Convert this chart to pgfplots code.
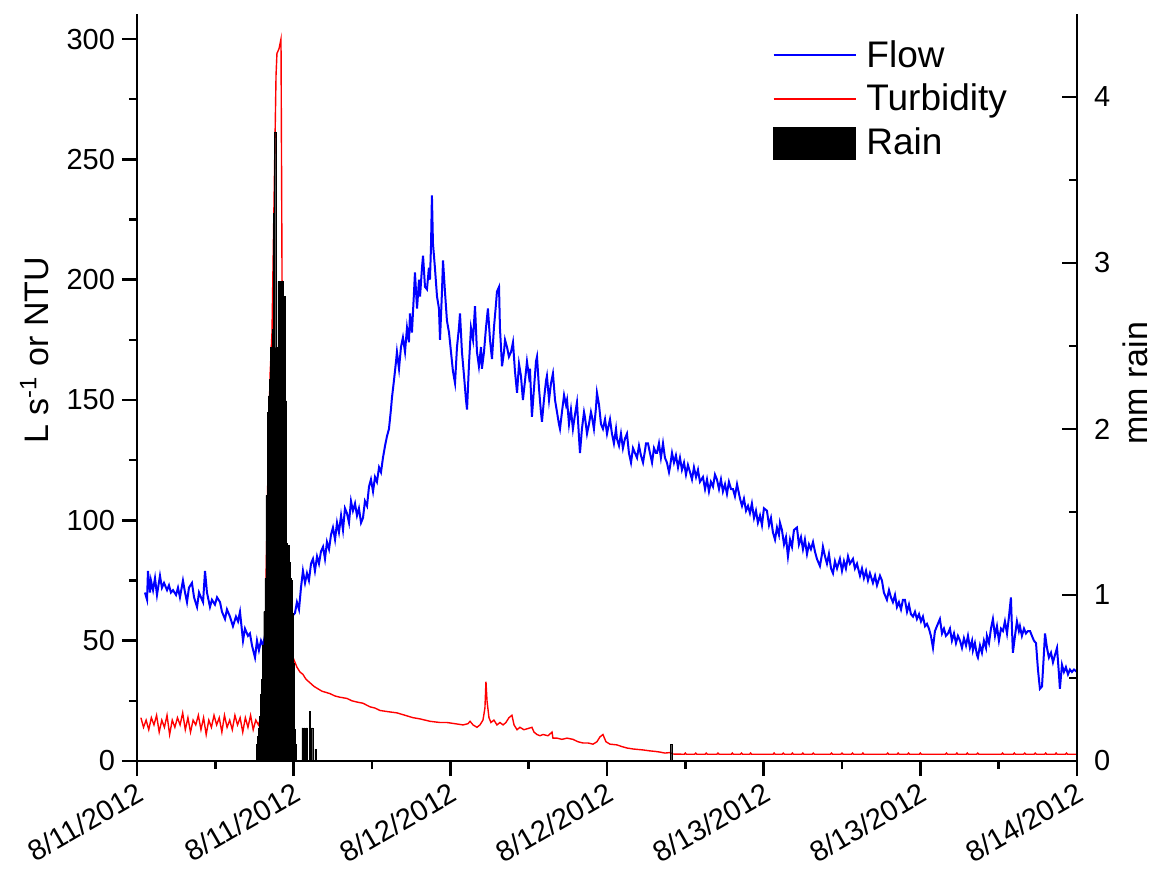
\documentclass[border=0pt]{standalone}
\usepackage{fontspec}
\setmainfont{Liberation Sans}
\usepackage{pgfplots}
\pgfplotsset{compat=1.18}
\begin{document}
\begin{tikzpicture}
\pgfplotsset{
  common/.style={
    scale only axis, width=470pt, height=373.5pt,
    at={(0pt,0pt)}, anchor=south west,
    xmin=0, xmax=72,
    axis line style={line width=1.3pt, black},
    major tick style={line width=1.3pt, black},
    minor tick style={line width=1.3pt, black},
    major tick length=7.5pt, minor tick length=4pt,
    tick label style={font=\fontsize{14.5}{17}\selectfont},
    /pgf/number format/assume math mode=true,
    label style={font=\fontsize{17}{20}\selectfont},
  }
}
\begin{axis}[common,
  axis x line*=bottom, axis y line*=left, tick align=outside,
  ymin=0, ymax=310.4,
  ytick={0,50,...,300}, minor y tick num=1,
  xtick={0,12,...,72}, minor x tick num=1,
  xticklabels={8/11/2012,8/11/2012,8/12/2012,8/12/2012,8/13/2012,8/13/2012,8/14/2012},
  xticklabel style={xshift=-0.5pt, yshift=-1pt, rotate=30, anchor=north east, inner sep=1pt, font=\fontsize{14.5}{17}\selectfont},
  ylabel={L s\textsuperscript{-1} or NTU},
  ylabel style={at={(axis description cs:-0.109,0.55)}, anchor=center},
]
\addplot[blue, line width=1pt] coordinates {
(0.61,70)(0.77,67)(0.84,79)(1.00,70)(1.07,75)(1.23,71)(1.38,76)(1.53,69)(1.76,77)(1.91,72)(2.07,74)(2.30,71)(2.45,73)(2.60,70)(2.76,71)(2.99,69)(3.14,72)(3.29,68)(3.52,75)(3.68,70)(3.83,66)(3.98,72)(4.21,74)(4.37,68)(4.60,64)(4.75,70)(4.90,68)(5.06,66)(5.21,79)(5.36,70)(5.59,64)(5.74,67)(5.97,65)(6.13,68)(6.36,66)(6.51,62)(6.74,59)(6.89,63)(7.12,60)(7.35,56)(7.58,60)(7.74,58)(7.89,62)(8.12,50)(8.27,55)(8.50,52)(8.65,53)(8.81,48)(9.04,43)(9.19,50)(9.34,46)(9.50,50)(9.65,48)(9.80,52)(10.03,50)(10.57,55)(11.34,58)(11.87,60)
(12.10,61.5)(12.25,66)(12.41,63)(12.56,72)(12.71,79)(12.87,74)(13.02,78)(13.17,75)(13.33,82)(13.48,84)(13.63,79)(13.79,85)(13.94,82)(14.09,87)(14.25,89)(14.40,84)(14.55,91)(14.71,88)(14.86,94)(15.01,97)(15.17,92)(15.32,99)(15.47,95)(15.63,102)(15.78,96)(15.93,105)(16.08,103)(16.24,99)(16.39,108)(16.54,104)(16.70,107)(16.85,102)(17.00,105)(17.16,99)(17.31,101)(17.46,108)(17.62,106)(17.77,114)(17.92,117)(18.08,112)(18.23,118)(18.38,116)(18.54,122)(18.69,120)(18.84,126)(19.00,131)(19.15,135)(19.30,138)(19.45,146)(19.53,151)(19.68,158)(19.84,166)(19.91,170)(20.07,163)(20.22,172)(20.37,176)(20.53,170)(20.68,180)(20.83,174)(20.91,186)(21.06,178)(21.22,195)(21.29,203)(21.45,188)(21.60,200)(21.68,193)(21.83,205)(21.91,210)(22.06,197)(22.21,196)(22.36,205)(22.44,200)(22.52,214)(22.59,235)(22.67,215)(22.82,205)(22.98,193)(23.13,188)(23.21,175)(23.36,195)(23.44,208)(23.59,195)(23.74,183)(23.90,178)(24.05,170)(24.20,162)(24.36,157)(24.51,172)(24.66,180)(24.74,186)(24.89,170)(25.05,160)(25.20,150)(25.28,146)(25.43,165)(25.58,180)(25.74,175)(25.89,189)(26.04,170)(26.19,164)(26.35,172)(26.42,163)(26.58,170)(26.73,180)(26.88,188)(27.04,175)(27.19,167)(27.34,180)(27.50,190)(27.57,195)(27.73,197)(27.80,180)(27.96,164)(28.11,170)(28.19,175)
(28.34,172)(28.49,168)(28.65,170)(28.80,174)(28.95,162)(29.11,153)(29.26,165)(29.41,160)(29.56,150)(29.72,158)(29.87,166)(30.02,160)(30.10,163)(30.25,143)(30.41,155)(30.56,166)(30.64,168)(30.79,155)(30.94,145)(31.02,141)(31.17,150)(31.33,158)(31.40,160)(31.56,150)(31.71,157)(31.86,161)(32.02,150)(32.17,145)(32.32,140)(32.40,138)(32.55,145)(32.71,152)(32.86,148)(32.94,150)(33.09,140)(33.24,146)(33.39,138)(33.55,144)(33.70,149)(33.85,135)(33.93,128)(34.08,138)(34.24,145)(34.31,143)(34.47,136)(34.62,140)(34.77,145)(34.85,143)(35.00,138)(35.16,147)(35.23,153)(35.39,148)(35.54,140)(35.69,138)(35.85,142)(36.00,136)(36.15,140)(36.23,142)(36.38,136)(36.53,132)(36.69,138)(36.76,134)(36.92,131)(37.07,136)(37.22,130)(37.38,134)(37.53,136)(37.68,128)(37.84,124)(37.99,130)(38.14,128)(38.30,126)(38.45,131)(38.60,127)(38.76,124)(38.91,129)(38.99,132)(39.14,132)(39.29,128)(39.45,124)(39.60,130)(39.75,128)(39.83,128)(39.98,132)(40.13,126)(40.29,132)(40.44,126)(40.59,124)(40.75,120)(40.82,122)(40.98,128)(41.13,124)(41.28,127)(41.44,122)(41.59,126)(41.74,121)(41.90,124)(42.05,119)(42.20,123)(42.36,120)(42.51,117)(42.66,122)(42.82,118)(42.97,121)(43.12,116)(43.35,118)(43.51,113)(43.66,117)(43.81,112)(43.96,116)(44.12,114)(44.27,119)(44.42,117)
(44.58,113)(44.73,117)(44.88,112)(45.04,115)(45.19,111)(45.34,116)(45.50,113)(45.65,113)(45.80,110)(45.96,115)(46.19,109)(46.34,106)(46.49,109)(46.65,104)(46.80,106)(46.95,103)(47.10,107)(47.26,101)(47.41,104)(47.56,99)(47.72,102)(47.87,98)(48.02,105)(48.25,104)(48.41,98)(48.56,101)(48.71,95)(48.87,92)(49.02,97)(49.17,94)(49.25,99)(49.40,96)(49.56,90)(49.71,93)(49.86,85)(50.02,92)(50.17,89)(50.32,96)(50.55,97)(50.70,90)(50.86,93)(51.01,88)(51.16,92)(51.32,86)(51.47,90)(51.62,88)(51.78,91)(51.93,87)(52.08,84)(52.31,81)(52.47,86)(52.54,89)(52.70,85)(52.85,82)(53.00,86)(53.16,80)(53.31,78)(53.46,83)(53.62,80)(53.84,84)(54.00,79)(54.15,83)(54.30,80)(54.46,85)(54.61,82)(54.84,84)(54.99,80)(55.15,82)(55.38,77)(55.53,80)(55.68,76)(55.84,79)(55.99,75)(56.14,78)(56.37,74)(56.53,77)(56.68,73)(56.91,77)(57.06,75)(57.21,70)(57.44,67)(57.60,71)(57.75,68)(57.90,66)(58.06,69)(58.21,64)(58.36,66)(58.52,63)(58.67,67)(58.82,67)(58.98,62)(59.13,65)(59.28,61)(59.44,60)(59.59,62)(59.74,59)(59.90,61)(60.05,58)(60.20,60)(60.36,56)(60.51,57)(60.66,55)(60.81,52)(60.97,47)(61.12,54)(61.27,56)(61.50,59)(61.66,53)(61.81,55)(61.96,52)(62.12,53)
(62.27,55)(62.42,50)(62.58,53)(62.73,49)(62.88,52)(63.04,50)(63.19,47)(63.34,51)(63.50,48)(63.65,52)(63.80,47)(63.96,50)(64.03,46)(64.18,49)(64.34,44)(64.41,43)(64.57,48)(64.72,45)(64.87,50)(65.03,47)(65.10,52)(65.26,49)(65.41,55)(65.56,59)(65.72,52)(65.87,56)(66.02,50)(66.18,55)(66.33,54)(66.48,58)(66.64,53)(66.79,60)(66.94,68)(67.02,55)(67.09,45)(67.25,52)(67.40,58)(67.55,54)(67.63,56)(67.78,52)(67.94,55)(68.09,53)(68.24,54)(68.40,54)(68.55,52)(68.70,50)(68.86,49)(69.01,38)(69.16,30)(69.32,31)(69.47,45)(69.55,53)(69.70,47)(69.85,43)(70.01,45)(70.16,41)(70.31,44)(70.47,47)(70.62,36)(70.69,30)(70.85,40)(71.00,37)(71.15,39)(71.31,36)(71.46,38)(71.61,37)(71.77,38)(72.00,37)
};
\addplot[red, line width=0.7pt] coordinates {
(0.3,18)(0.5,14)(0.7,17)(0.9,13)(1.1,18)(1.3,15)(1.5,19)(1.7,12)(1.9,17)(2.1,14)(2.3,19)(2.5,11)(2.7,17)(2.9,14)(3.1,18)(3.3,15)(3.5,20)(3.7,13)(3.9,18)(4.1,12)(4.3,17)(4.5,15)(4.7,19)(4.9,13)(5.1,18)(5.3,11)(5.5,17)(5.7,14)(5.9,19)(6.1,15)(6.3,18)(6.5,12)(6.7,19)(6.9,14)(7.1,17)(7.3,13)(7.5,19)(7.7,15)(7.9,18)(8.1,12)(8.3,18)(8.5,14)(8.7,19)(8.9,13)(9.1,17)(9.3,15)(9.5,18)(9.65,14)
(9.80,20)(9.88,75)(10.03,120)(10.19,160)(10.34,178)(10.49,230)(10.65,285)(10.72,294)(10.88,296)(11.03,300)(11.11,200)(11.18,150)(11.26,110)(11.41,75)(11.57,55)(11.80,45)(12.10,41)(12.25,39)
(12.48,37)(12.71,36)(12.94,34)(13.25,32.5)(13.56,31)(13.86,30)(14.17,29)(14.48,28.5)(14.78,28)(15.17,27)(15.55,26.5)(16.08,26)(16.47,25)(16.85,24.5)(17.31,24)(17.85,22.5)(18.23,22)(18.61,21)(19.22,20.5)(19.91,20)(20.53,19)(21.14,18)(21.68,17.5)(22.44,16.5)(23.21,16)(23.74,16)(24.36,15.5)(24.97,15)(25.35,15.5)(25.51,16.5)(25.74,15)(26.04,14)(26.27,15)(26.50,17)(26.65,22)(26.73,33)(26.81,25)(26.96,18)(27.11,16)(27.34,17)(27.57,15)(27.80,16)(28.04,15)(28.26,16)(28.49,18)(28.72,19)(28.88,15)(29.11,13)(29.33,14)(29.64,13)(29.95,13.5)(30.25,14)(30.41,12)(30.64,11)(30.87,10.5)(31.10,11)(31.48,10.5)(31.79,12)(31.86,9.5)(32.17,9.5)(32.55,9)(32.94,9.5)(33.39,9)(33.78,8)(34.16,7.5)(34.54,7.5)(34.93,7)(35.23,8)(35.46,10)(35.69,11)(35.92,8)(36.23,7)(36.76,6.7)(37.14,6)(37.53,5.4)(37.99,5)(38.37,4.8)(38.76,4.6)(39.29,4.2)(39.68,4)(40.06,3.7)(40.44,3.3)(40.82,3.5)(41.05,2.9)
(41.92,2.8)(42.0,3.3)(42.08,2.8)(42.72,2.8)(42.8,3.3)(42.88,2.8)(43.52,2.8)(43.6,3.3)(43.68,2.8)(44.42,2.8)(44.5,3.3)(44.58,2.8)(45.52,2.8)(45.6,3.3)(45.68,2.8)(46.22,2.8)(46.3,3.3)(46.38,2.8)(46.92,2.8)(47.0,3.3)(47.08,2.8)(48.72,2.8)(48.8,3.3)(48.88,2.8)(49.42,2.8)(49.5,3.3)(49.58,2.8)(50.12,2.8)(50.2,3.3)(50.28,2.8)(50.92,2.8)(51.0,3.3)(51.08,2.8)(51.72,2.8)(51.8,3.3)(51.88,2.8)(53.12,2.8)(53.2,3.3)(53.28,2.8)(53.92,2.8)(54.0,3.3)(54.08,2.8)(54.72,2.8)(54.8,3.3)(54.88,2.8)(55.52,2.8)(55.6,3.3)(55.68,2.8)(57.42,2.8)(57.5,3.3)(57.58,2.8)(58.22,2.8)(58.3,3.3)(58.38,2.8)(59.02,2.8)(59.1,3.3)(59.18,2.8)(59.92,2.8)(60.0,3.3)(60.08,2.8)(61.92,2.8)(62.0,3.3)(62.08,2.8)(62.72,2.8)(62.8,3.3)(62.88,2.8)(63.52,2.8)(63.6,3.3)(63.68,2.8)(64.32,2.8)(64.4,3.3)(64.48,2.8)(66.22,2.8)(66.3,3.3)(66.38,2.8)(67.12,2.8)(67.2,3.3)(67.28,2.8)(67.92,2.8)(68.0,3.3)(68.08,2.8)(68.72,2.8)(68.8,3.3)(68.88,2.8)(69.52,2.8)(69.6,3.3)(69.68,2.8)(70.32,2.8)(70.4,3.3)(70.48,2.8)(71.12,2.8)(71.2,3.3)(71.28,2.8)(72.0,2.8)
};
\end{axis}
\begin{axis}[common,
  axis x line=none, axis y line*=right, tick align=inside,
  ymin=0, ymax=4.5, ytick={0,1,2,3,4}, minor y tick num=1,
  yticklabel style={xshift=5pt},
  ylabel={mm rain},
  ylabel style={at={(axis description cs:1.062,0.506)}, anchor=center},
  legend style={at={(rel axis cs:0.676,0.968)}, anchor=north west, draw=none, fill=none,
    font=\fontsize{18.5}{21}\selectfont, row sep=5pt, inner sep=0pt,
    nodes={inner xsep=5pt, inner ysep=1pt}},
  legend cell align=left,
]
\addlegendimage{color=blue, legend image code/.code={\draw[draw=blue, line width=0.8pt] (0pt,0pt) -- (41pt,0pt);}}
\addlegendentry{Flow}
\addlegendimage{color=red, legend image code/.code={\draw[draw=red, line width=0.8pt] (0pt,0pt) -- (41pt,0pt);}}
\addlegendentry{Turbidity}
\addplot[ybar, bar width=0.0833, bar shift=0pt, fill=black, draw=black, line width=0.2pt,
  legend image code/.code={\fill[black] (0pt,-8pt) rectangle (41pt,8pt);}] coordinates {
(9.167,0.1)(9.250,0.15)(9.333,0.2)(9.417,0.27)(9.500,0.4)(9.583,0.49)(9.667,0.7)(9.750,0.9)(9.833,1.1)(9.917,1.6)(10.000,2.1)(10.083,2.2)(10.167,2.3)(10.250,2.49)(10.333,2.49)(10.417,2.6)(10.500,3.3)(10.583,3.79)(10.667,2.49)(10.750,2.49)(10.833,2.89)(10.917,2.89)(11.000,2.49)(11.083,2.89)(11.167,2.89)(11.250,2.5)(11.333,2.8)(11.417,2.17)(11.500,1.31)(11.583,1.3)(11.667,1.2)(11.750,1.1)(11.833,1.09)(11.917,0.89)(12.000,0.59)(12.083,0.19)(12.167,0.1)
(12.667,0.2)(12.833,0.2)(13.000,0.2)(13.250,0.3)(13.417,0.2)(13.667,0.07)(40.917,0.1)
};
\addlegendentry{Rain}
\end{axis}
\pgfresetboundingbox
\path (-68.5pt,-57pt) rectangle (507.5pt,380.5pt);
\end{tikzpicture}
\end{document}
